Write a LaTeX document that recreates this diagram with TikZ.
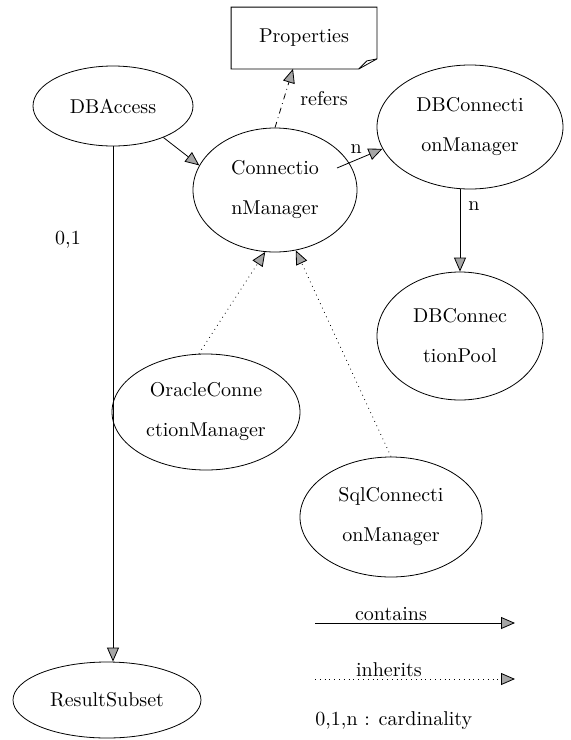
\documentclass[tikz,border=0pt]{standalone}
\usepackage{xcolor}
\usepackage{tikz}
\usetikzlibrary{shapes.geometric,arrows.meta}

\begin{document}
\begin{tikzpicture}[
        x=0.5pt, y=-0.5pt,
        cls/.style={
            ellipse,
            draw,
            thin,
            align=center,
            inner sep=0pt,
            font=\fontsize{10}{20}\selectfont
        },
        doc/.style={
            rectangle,
            minimum width=72.5pt,
            minimum height=30.5pt,
            font=\fontsize{10}{12}\selectfont
        },
        tip/.style={-{Triangle[fill=gray!70, length=7pt, width=6pt]}},
        contains/.style={tip, thin},
        inherits/.style={tip, thin, dotted},
        refers/.style={tip, thin, dash dot},
        note/.style={font=\fontsize{10}{12}\selectfont, inner sep=1pt}
    ]
        \useasboundingbox (0,0) rectangle (571,740);

        % classes
        \node[cls, minimum width=80pt, minimum height=40pt] (dba) at (113,106) {DBAccess};
        \node[cls, minimum width=82pt, minimum height=62pt] (cm) at (275,190) {Connectio\\nManager};
        \node[cls, minimum width=93pt, minimum height=62pt] (dbcm) at (470,127) {DBConnecti\\onManager};
        \node[cls, minimum width=83pt, minimum height=64pt] (dbcp) at (460,336) {DBConnec\\tionPool};
        \node[cls, minimum width=94pt, minimum height=58pt] (orcm) at (206,412) {OracleConne\\ctionManager};
        \node[cls, minimum width=91pt, minimum height=60pt] (sqcm) at (391,517) {SqlConnecti\\onManager};
        \node[cls, minimum width=94pt, minimum height=38pt] (rs) at (107,700) {ResultSubset};

        % Properties (note with folded corner)
        \node[doc] (props) at (304,38) {Properties};
        \draw[thin] (props.north west) -- (props.north east) -- ([yshift=5pt]props.south east)
            -- ([xshift=-9pt]props.south east) -- (props.south west) -- cycle;
        \draw[thin] ([xshift=-9pt]props.south east) -- ([xshift=-5pt,yshift=4pt]props.south east)
            -- ([yshift=5pt]props.south east);

        % relations
        \coordinate (nstart) at (337,168);
        \draw[contains] (dba.-32) -- (cm.162);
        \draw[contains] (nstart) -- node[note, above=2pt, pos=0.42] {n} (dbcm.194);
        \draw[refers] (cm.north) -- node[note, right, pos=0.5, xshift=7pt] {refers} ([xshift=-5.5pt]props.south);
        \draw[contains] (dbcm.south -| dbcp.north) -- node[note, right=3pt, pos=0.2] {n} (dbcp.north);
        \draw[contains] (dba.south) -- (dba.south |- rs.north);
        \node[note] (card) at (68,240) {0,1};
        \draw[inherits] (orcm.97) -- (cm.-99);
        \draw[inherits] (sqcm.north) -- (cm.-71);

        % legend
        \coordinate (ca) at (315,623);
        \coordinate (cb) at (515,623);
        \coordinate (ia) at (315,679);
        \coordinate (ib) at (515,679);
        \draw[contains] (ca) -- node[note, above, pos=0.38] {contains} (cb);
        \draw[inherits] (ia) -- node[note, above, pos=0.37] {inherits} (ib);
        \node[note, anchor=west] (legend) at (313,721) {0,1,n : cardinality};
    \end{tikzpicture}
\end{document}
